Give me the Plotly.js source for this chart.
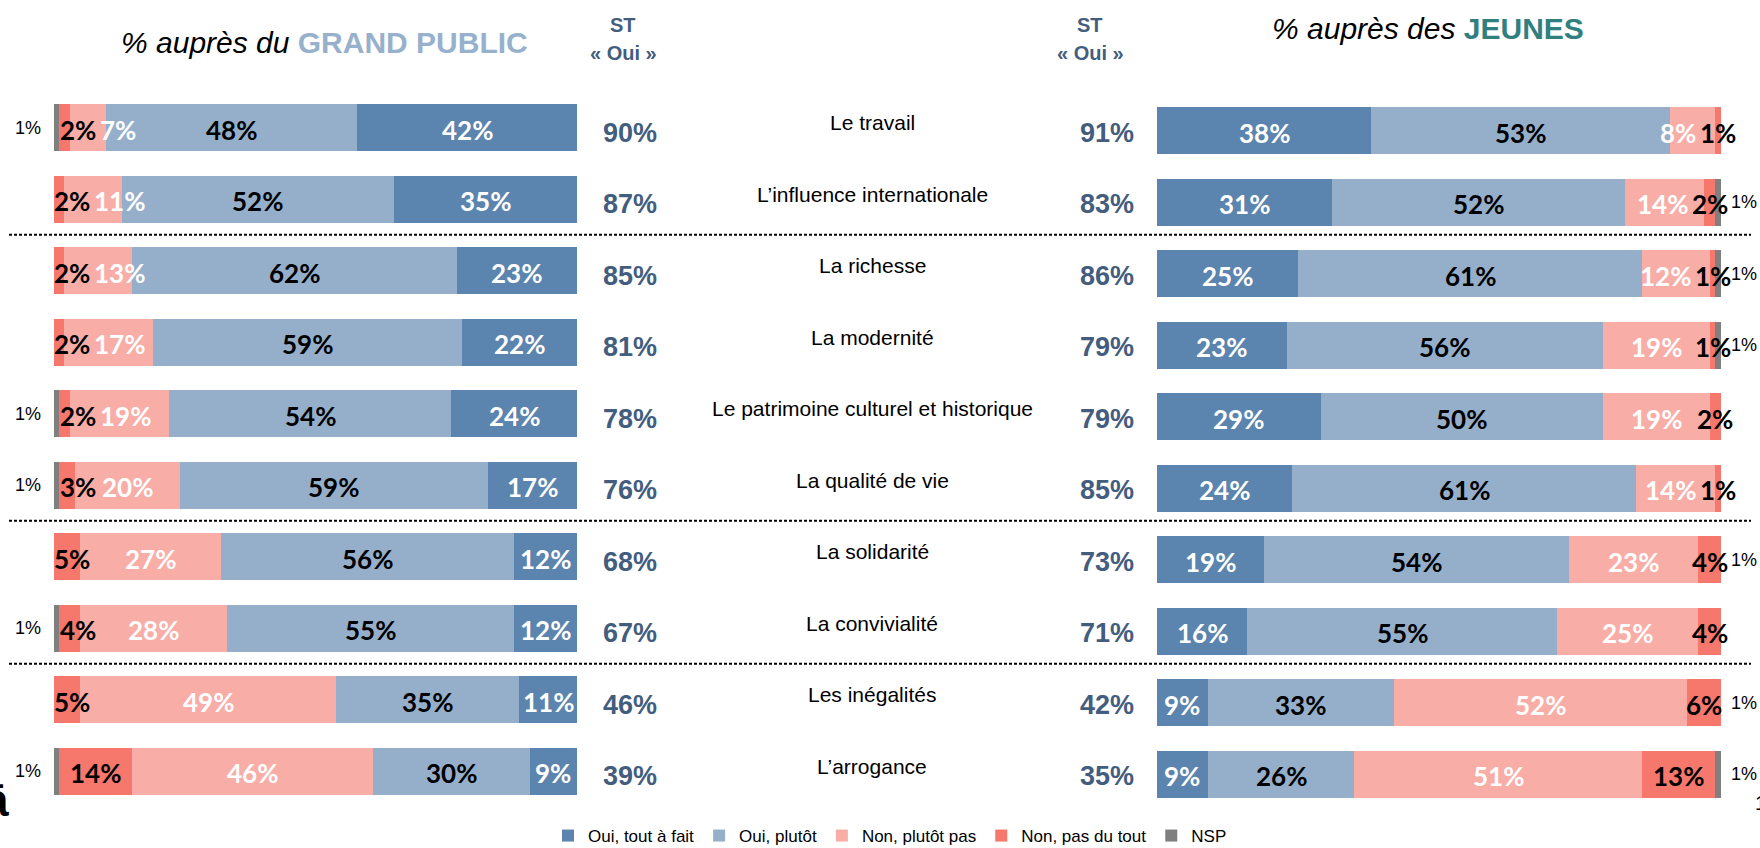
<!DOCTYPE html>
<html>
<head>
<meta charset="utf-8">
<script src="https://cdn.plot.ly/plotly-3.0.1.min.js"></script>
<style>
  html, body { margin: 0; padding: 0; background: #fff; }
  #chart { width: 1760px; height: 848px; }
</style>
</head>
<body>
<div id="chart"></div>
<script>
// categories, top to bottom
const categories = [
  'Le travail',
  'L’influence internationale',
  'La richesse',
  'La modernité',
  'Le patrimoine culturel et historique',
  'La qualité de vie',
  'La solidarité',
  'La convivialité',
  'Les inégalités',
  'L’arrogance'
];

const seriesNames = ['Oui, tout à fait', 'Oui, plutôt', 'Non, plutôt pas', 'Non, pas du tout', 'NSP'];

// % auprès du grand public
const gpToutAFait = [42, 35, 23, 22, 24, 17, 12, 12, 11, 9];
const gpPlutot    = [48, 52, 62, 59, 54, 59, 56, 55, 35, 30];
const gpPlutotPas = [7, 11, 13, 17, 19, 20, 27, 28, 49, 46];
const gpPasDuTout = [2, 2, 2, 2, 2, 3, 5, 4, 5, 14];
const gpNsp       = [1, 0, 0, 0, 1, 1, 0, 1, 0, 1];
const gpSousTotal = [90, 87, 85, 81, 78, 76, 68, 67, 46, 39];

// % auprès des jeunes
const jToutAFait = [38, 31, 25, 23, 29, 24, 19, 16, 9, 9];
const jPlutot    = [53, 52, 61, 56, 50, 61, 54, 55, 33, 26];
const jPlutotPas = [8, 14, 12, 19, 19, 14, 23, 25, 52, 51];
const jPasDuTout = [1, 2, 1, 1, 2, 1, 4, 4, 6, 13];
const jNsp       = [0, 1, 1, 1, 0, 0, 1, 0, 1, 1];
const jSousTotal = [91, 83, 86, 79, 79, 85, 73, 71, 42, 35];

const colors = ['#5B84AE', '#95AFCB', '#F9ADA7', '#F6776B', '#7F7F7F'];
const labelColors = ['#ffffff', '#000000', '#ffffff', '#000000'];

// page geometry
const W = 1760, H = 848;
const L0 = 54, L1 = 577;        // left bars, px
const R0 = 1157, R1 = 1721;     // right bars, px
const PITCH = 71.5;
const ROW0_LEFT = 127.5, ROW0_RIGHT = 130.5;
const BAR_W = 47 / PITCH;

const ARIAL = 'Arial, "Liberation Sans", sans-serif';
const LBL_FONT = 26;
const stColor = '#435D7E';

const rows = categories.map((c, i) => i);

function pxL(v) { return L1 - v * (L1 - L0) / 100; }
function vL(px) { return (L1 - px) * 100 / (L1 - L0); }
function pxR(v) { return R0 + v * (R1 - R0) / 100; }
function vR(px) { return (px - R0) * 100 / (R1 - R0); }
function labelWidth(n) { return String(n).length * 0.58 * LBL_FONT + 0.84 * LBL_FONT; }

const gpSeries = [gpToutAFait, gpPlutot, gpPlutotPas, gpPasDuTout, gpNsp];
const jSeries  = [jToutAFait, jPlutot, jPlutotPas, jPasDuTout, jNsp];

const data = [];
seriesNames.forEach((name, k) => {
  data.push({
    type: 'bar', orientation: 'h', name: name,
    x: gpSeries[k], y: rows, xaxis: 'x', yaxis: 'y',
    width: BAR_W, marker: { color: colors[k] },
    showlegend: false, hoverinfo: 'x+name'
  });
});
seriesNames.forEach((name, k) => {
  data.push({
    type: 'bar', orientation: 'h', name: name,
    x: jSeries[k], y: rows, xaxis: 'x2', yaxis: 'y2',
    width: BAR_W, marker: { color: colors[k] },
    showlegend: true, hoverinfo: 'x+name'
  });
});

const annotations = [];
const gap = 3;

function barLabel(x, xref, yref, i, val, k) {
  annotations.push({
    x: x, y: i, xref: xref, yref: yref, showarrow: false,
    xanchor: 'center', yanchor: 'middle',
    text: '<b>' + val + '%</b>', yshift: -2,
    font: { family: 'Lato, "Open Sans", sans-serif', size: LBL_FONT, color: labelColors[k] }
  });
}

function pageText(px, py, text, font, extra) {
  annotations.push(Object.assign({
    x: px / W, y: 1 - py / H, xref: 'paper', yref: 'paper', showarrow: false,
    xanchor: 'center', yanchor: 'middle', text: text, font: font
  }, extra || {}));
}

rows.forEach(i => {
  // ---- grand public (drawn right to left)
  let starts = [], acc = 0;
  for (let k = 0; k < 5; k++) { starts.push(acc); acc += gpSeries[k][i]; }
  const gpTotal = acc;
  let prevRight = null;
  for (let k = 3; k >= 0; k--) {
    const val = gpSeries[k][i];
    if (!val) continue;
    const segLeft = pxL(starts[k] + val), segRight = pxL(starts[k]);
    const hw = labelWidth(val) / 2;
    let c = (segLeft + segRight) / 2;
    if (k === 3) c = Math.max(c, segLeft + hw);
    if (prevRight !== null && c - hw < prevRight + gap) c = prevRight + gap + hw;
    prevRight = c + hw;
    barLabel(vL(c), 'x', 'y', i, val, k);
  }
  if (gpNsp[i]) {
    annotations.push({
      x: (pxL(gpTotal) - 11) / W, y: i, xref: 'paper', yref: 'y',
      xanchor: 'right', yanchor: 'middle',
      showarrow: false, text: gpNsp[i] + '%',
      font: { family: ARIAL, size: 18, color: '#000' }
    });
  }

  // ---- jeunes (drawn left to right)
  starts = []; acc = 0;
  for (let k = 0; k < 5; k++) { starts.push(acc); acc += jSeries[k][i]; }
  const jTotal = acc;
  let prevLeft = null;
  for (let k = 3; k >= 0; k--) {
    const val = jSeries[k][i];
    if (!val) continue;
    const segLeft = pxR(starts[k]), segRight = pxR(starts[k] + val);
    const hw = labelWidth(val) / 2;
    let c = (segLeft + segRight) / 2;
    if (prevLeft !== null && c + hw > prevLeft - gap) c = prevLeft - gap - hw;
    prevLeft = c - hw;
    barLabel(vR(c), 'x2', 'y2', i, val, k);
  }
  if (jNsp[i]) {
    annotations.push({
      x: (Math.min(pxR(jTotal), R1) + 8) / W, y: i, xref: 'paper', yref: 'y2',
      xanchor: 'left', yanchor: 'middle',
      showarrow: false, text: jNsp[i] + '%',
      font: { family: ARIAL, size: 18, color: '#000' }
    });
  }

  // category in the middle
  annotations.push({
    x: 872 / W, y: i, xref: 'paper', yref: 'y', yshift: 5, showarrow: false,
    xanchor: 'center', yanchor: 'middle',
    text: categories[i], font: { family: ARIAL, size: 21, color: '#000' }
  });

  // sous-totaux "Oui"
  annotations.push({
    x: 630 / W, y: i, xref: 'paper', yref: 'y', yshift: -5, showarrow: false,
    xanchor: 'center', yanchor: 'middle',
    text: '<b>' + gpSousTotal[i] + '%</b>', font: { family: ARIAL, size: 27, color: stColor }
  });
  annotations.push({
    x: 1107 / W, y: i, xref: 'paper', yref: 'y', yshift: -5, showarrow: false,
    xanchor: 'center', yanchor: 'middle',
    text: '<b>' + jSousTotal[i] + '%</b>', font: { family: ARIAL, size: 27, color: stColor }
  });
});

// titles and column headers
pageText(324, 43, '<i>% auprès du </i><b><span style="color:#97B1CC">GRAND PUBLIC</span></b>',
  { family: ARIAL, size: 30, color: '#000' });
pageText(1428, 28, '<i>% auprès des </i><b><span style="color:#31807F">JEUNES</span></b>',
  { family: ARIAL, size: 30, color: '#000' });
pageText(623, 25, '<b>ST</b>', { family: ARIAL, size: 20, color: stColor });
pageText(623, 53, '<b>« Oui »</b>', { family: ARIAL, size: 20, color: stColor });
pageText(1090, 25, '<b>ST</b>', { family: ARIAL, size: 20, color: stColor });
pageText(1090, 53, '<b>« Oui »</b>', { family: ARIAL, size: 20, color: stColor });
// cut-off page furniture at the edges (also cut in the original slide)
pageText(11, 800, '<b>ā</b>', { family: ARIAL, size: 46, color: '#000' }, { xanchor: 'right' });
pageText(1753, 803, '1', { family: ARIAL, size: 20, color: '#000' }, { xanchor: 'left' });

// dotted separators between groups
const separators = [1.5, 5.5, 7.5];
const shapes = separators.map(s => ({
  type: 'line', xref: 'paper', yref: 'y', x0: 9 / W, x1: 1751 / W, y0: s, y1: s,
  line: { color: '#000', width: 2, dash: '3px,2px' }
}));

const layout = {
  width: W, height: H,
  margin: { l: 0, r: 0, t: 0, b: 0, autoexpand: false },
  paper_bgcolor: '#fff', plot_bgcolor: '#fff',
  barmode: 'stack', bargap: 0,
  xaxis: { domain: [L0 / W, L1 / W], range: [100, 0], visible: false, fixedrange: true },
  yaxis: { domain: [0, 1], range: [(H - ROW0_LEFT) / PITCH, -ROW0_LEFT / PITCH], visible: false, fixedrange: true },
  xaxis2: { domain: [R0 / W, R1 / W], range: [0, 100], visible: false, anchor: 'y2', fixedrange: true },
  yaxis2: { domain: [0, 1], range: [(H - ROW0_RIGHT) / PITCH, -ROW0_RIGHT / PITCH], visible: false, anchor: 'x2', fixedrange: true },
  showlegend: true,
  legend: {
    orientation: 'h', x: 890 / W, xanchor: 'center', y: 12 / H, yanchor: 'middle',
    traceorder: 'normal',
    font: { family: ARIAL, size: 17, color: '#000' }, itemwidth: 30,
    bgcolor: 'rgba(0,0,0,0)', itemclick: false, itemdoubleclick: false
  },
  annotations: annotations,
  shapes: shapes
};

Plotly.newPlot('chart', data, layout, { displayModeBar: false, staticPlot: true });
</script>
</body>
</html>
